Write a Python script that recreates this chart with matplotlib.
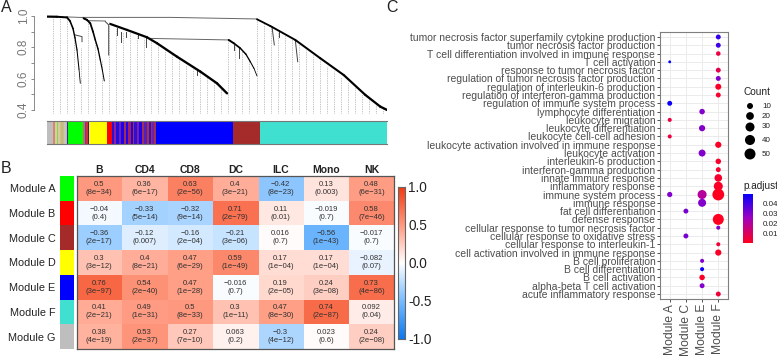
#!/usr/bin/env python3
import numpy as np
import matplotlib
matplotlib.use("Agg")
import matplotlib.pyplot as plt
from matplotlib.colors import LinearSegmentedColormap

plt.rcParams["font.family"] = ["Liberation Sans", "DejaVu Sans"]

W, H = 777, 356

# Panel A: dendrogram branches as (position, height, line width at each end)
BRANCHES_THICK = [
    ([0, 10, 20, 23, 26, 28, 30, 32, 33.3], [0.996, 0.995, 0.991, 0.968, 0.920, 0.860, 0.783, 0.660, 0.570], 1.6, 0.6),
    ([36.7, 40, 43.3, 46, 48.3, 51, 53.3, 55.5, 57.3], [0.985, 0.975, 0.953, 0.900, 0.847, 0.790, 0.719, 0.650, 0.585], 1.5, 0.7),
    ([63.3, 80, 100, 110, 130, 153.3, 170, 180], [0.949, 0.911, 0.864, 0.826, 0.740, 0.645, 0.570, 0.506], 1.6, 1.7),
    ([181.7, 187, 193.3, 199, 203.3, 207, 210], [0.847, 0.825, 0.794, 0.755, 0.708, 0.665, 0.617], 1.4, 0.6),
    ([210, 223.3, 248.3, 273.3, 296.7, 318.3, 333.3, 340], [0.979, 0.936, 0.847, 0.730, 0.623, 0.496, 0.421, 0.400], 1.3, 1.7),
]
BRANCHES_THIN = [
    ([28.3, 35, 35], [0.879, 0.868, 0.836]),
    ([58.3, 61.7, 61.7], [0.964, 0.943, 0.751]),
    ([70, 70], [0.921, 0.879]),
    ([74, 74], [0.900, 0.836]),
    ([79, 79], [0.900, 0.868]),
    ([90.7, 90.7], [0.879, 0.857]),
    ([99, 99], [0.857, 0.804]),
    ([150, 150], [0.651, 0.621]),
    ([186.7, 186.7], [0.815, 0.783]),
    ([192, 192], [0.794, 0.730]),
    ([225, 227.3], [0.932, 0.815]),
    ([231.7, 231.7], [0.911, 0.868]),
    ([248.3, 250.7], [0.847, 0.708]),
]
BRANCHES_LINK = [
    ([20, 36.7], [0.994, 0.990]),
    ([41.7, 58.3], [0.970, 0.968]),
    ([101.7, 181.7], [0.857, 0.847]),
    ([35, 124, 210], [0.991, 0.991, 0.981]),
]
GUIDE_X = [6, 13, 20, 27, 34, 41, 48, 55, 62, 69, 76, 83, 90, 97, 104, 111, 118, 125, 132, 139, 146, 153,
           160, 167, 174, 181, 188, 195, 202, 210, 217, 224, 231, 238, 245, 252, 259, 266, 273, 280, 287,
           294, 301, 308, 315, 322, 329, 336]
GUIDE_TOP = [0.99, 0.99, 0.99, 0.85, 0.80, 0.96, 0.85, 0.72, 0.96, 0.92, 0.90, 0.90, 0.88, 0.86, 0.84,
             0.83, 0.79, 0.76, 0.73, 0.69, 0.66, 0.64, 0.61, 0.58, 0.55, 0.85, 0.83, 0.78, 0.73, 0.98,
             0.96, 0.93, 0.90, 0.88, 0.85, 0.82, 0.78, 0.75, 0.72, 0.68, 0.65, 0.61, 0.58, 0.54, 0.50,
             0.47, 0.43, 0.41]

STRIP_WIDTHS = [6, 2.3, 1.5, 1.5, 1.5, 1.5, 1.5, 1.5, 1.5, 1.5, 0.8, 15.3, 1.5, 1.5, 1.5, 1.5, 0.5, 16.7, 5.7,
                2, 2, 3, 2, 3, 1.5, 2, 3, 2, 1.5, 3, 2, 3, 2, 3, 1.5, 2, 1.5, 2, 1.5, 76.7, 27.7, 130.7]
STRIP_COLORS = ["#BEBEBE", "#E08078", "#C8D890", "#90D060", "#D8C8A0", "#B0D870", "#E0A890", "#A8D080", "#C8C8B0",
                "#C0B8A8", "#3030A0", "#00FF00", "#C07060", "#8030A0", "#D03040", "#3010D0", "#FFFF00", "#FFFF00",
                "#FF0000", "#3010D0", "#9020A0", "#2010E0", "#7020B0", "#2000F0", "#A03050", "#2000F0", "#A02060",
                "#2000F0", "#B03040", "#3010D0", "#8020A0", "#2000F0", "#A03050", "#5020C0", "#B03040", "#3010D0",
                "#A03050", "#7020B0", "#A03050", "#0000FF", "#A52A2A", "#40E0D0"]

# Panel B: module/cell type correlations
CELL_TYPES = ["B", "CD4", "CD8", "DC", "ILC", "Mono", "NK"]
MODULES = ["Module A", "Module B", "Module C", "Module D", "Module E", "Module F", "Module G"]
MODULE_COLORS = ["#00FF00", "#FF0000", "#A52A2A", "#FFFF00", "#0000FF", "#40E0D0", "#BEBEBE"]
CORR = [
    ["0.5", "0.36", "0.63", "0.4", "-0.42", "0.13", "0.48"],
    ["-0.04", "-0.33", "-0.32", "0.71", "0.11", "-0.019", "0.58"],
    ["-0.36", "-0.12", "-0.16", "-0.21", "0.016", "-0.56", "-0.017"],
    ["0.3", "0.4", "0.47", "0.59", "0.17", "0.17", "-0.082"],
    ["0.76", "0.54", "0.47", "-0.016", "0.19", "0.24", "0.73"],
    ["0.41", "0.49", "0.5", "0.3", "0.47", "0.74", "0.092"],
    ["0.38", "0.53", "0.27", "0.063", "-0.3", "0.023", "0.24"],
]
PVALS = [
    ["8e-34", "6e-17", "2e-56", "3e-21", "8e-23", "0.003", "6e-31"],
    ["0.4", "5e-14", "9e-14", "2e-79", "0.01", "0.7", "7e-46"],
    ["2e-17", "0.007", "2e-04", "3e-06", "0.7", "1e-43", "0.7"],
    ["3e-12", "8e-21", "6e-29", "1e-49", "1e-04", "1e-04", "0.07"],
    ["3e-97", "2e-40", "1e-28", "0.7", "2e-05", "3e-08", "4e-86"],
    ["2e-21", "1e-31", "8e-33", "1e-11", "8e-30", "2e-87", "0.04"],
    ["4e-19", "2e-37", "7e-10", "0.2", "4e-12", "0.6", "2e-08"],
]

# Panel C: GO enrichment dots
TERMS = [
    "tumor necrosis factor superfamily cytokine production", "tumor necrosis factor production",
    "T cell differentiation involved in immune response", "T cell activation",
    "response to tumor necrosis factor", "regulation of tumor necrosis factor production",
    "regulation of interleukin-6 production", "regulation of interferon-gamma production",
    "regulation of immune system process", "lymphocyte differentiation", "leukocyte migration",
    "leukocyte differentiation", "leukocyte cell-cell adhesion",
    "leukocyte activation involved in immune response", "leukocyte activation",
    "interleukin-6 production", "interferon-gamma production", "innate immune response",
    "inflammatory response", "immune system process", "immune response", "fat cell differentiation",
    "defense response", "cellular response to tumor necrosis factor",
    "cellular response to oxidative stress", "cellular response to interleukin-1",
    "cell activation involved in immune response", "B cell proliferation", "B cell differentiation",
    "B cell activation", "alpha-beta T cell activation", "acute inflammatory response",
]
GO_MODULES = ["Module A", "Module C", "Module E", "Module F"]
DOT_TERM = [0, 1, 2, 3, 4, 5, 6, 7, 8, 9, 10, 11, 12, 13, 14, 15, 16, 17, 18, 19, 19, 19, 20, 21, 22, 23, 24, 25, 26, 27, 28, 29, 30, 31]
DOT_MODULE = [3, 3, 3, 0, 3, 3, 3, 3, 0, 2, 0, 2, 0, 3, 2, 3, 3, 3, 3, 0, 2, 3, 2, 1, 3, 3, 1, 3, 3, 2, 2, 2, 2, 3]
DOT_COUNT = [6, 6, 5, 3, 6, 6, 10, 6, 6, 8, 4, 11, 4, 11, 15, 8, 6, 19, 30, 7, 30, 60, 22, 6, 50, 4, 6, 4, 11, 4, 4, 8, 6, 6]
DOT_P = [0.042, 0.04, 0.006, 0.05, 0.008, 0.03, 0.002, 0.003, 0.048, 0.03, 0.006, 0.03, 0.006, 0.002, 0.03, 0.003,
         0.004, 0.003, 0.002, 0.03, 0.02, 0.001, 0.03, 0.032, 0.001, 0.03, 0.032, 0.005, 0.002, 0.03, 0.048, 0.002, 0.03, 0.005]
LEGEND_COUNTS = [10, 20, 30, 40, 50]
LEGEND_P = [0.04, 0.03, 0.02, 0.01]

HEAT_CMAP = LinearSegmentedColormap.from_list(
    "heat", [(0, "#0A78F0"), (0.25, "#78BCFF"), (0.5, "#FFFFFF"), (0.75, "#FF9A80"), (1, "#F23A10")])
P_CMAP = LinearSegmentedColormap.from_list("padj", ["#FF0020", "#A000C0", "#0000FF"])


def _axes(fig, left, top, right, bottom, **kw):
    # boxes are given in image pixels, measured from the top left
    return fig.add_axes([left / W, 1 - bottom / H, (right - left) / W, (bottom - top) / H], **kw)


def _dot_px(count):
    return 2.86 + 8.96 * np.sqrt((np.asarray(count, dtype=float) - 3) / 57)


def _plot_dendrogram(fig):
    ax = _axes(fig, 47, 14, 387, 114)
    ax.set_xlim(0, 340)
    ax.set_ylim(0.374, 1.0127)
    ax.vlines(GUIDE_X, 0.38, GUIDE_TOP, color="#8C8C8C", linewidth=0.5, linestyle=(0, (1, 1.5)))
    for xs, ys in BRANCHES_LINK:
        ax.plot(xs, ys, color="#666666", linewidth=0.7)
    for xs, ys in BRANCHES_THIN:
        ax.plot(xs, ys, color="#444444", linewidth=0.7)
    for xs, ys, lw_start, lw_end in BRANCHES_THICK:
        # widths change along the branch, so draw it piece by piece
        widths = np.linspace(lw_start, lw_end, len(xs) - 1)
        for i, lw in enumerate(widths):
            ax.plot(xs[i:i + 2], ys[i:i + 2], color="black", linewidth=lw, solid_capstyle="round")
    for name in ("top", "right", "bottom"):
        ax.spines[name].set_visible(False)
    ax.spines["left"].set_position(("outward", 9.4))
    ax.spines["left"].set_bounds(0.4, 1.0)
    ax.spines["left"].set_color("#777777")
    ax.spines["left"].set_linewidth(0.6)
    ax.set_xticks([])
    ax.set_yticks([0.4, 0.5, 0.6, 0.7, 0.8, 0.9, 1.0])
    ax.set_yticklabels(["0.4", "", "0.6", "", "0.8", "", "1.0"], rotation=90, va="center", fontsize=8.5, color="#777777")
    ax.tick_params(axis="y", length=2.5, width=0.6, color="#777777", pad=0.5)
    ax.patch.set_visible(False)

    strip = _axes(fig, 47, 121, 387, 144)
    strip.barh(0, STRIP_WIDTHS, left=np.cumsum([0] + STRIP_WIDTHS[:-1]), height=1, color=STRIP_COLORS, linewidth=0)
    strip.set_xlim(0, 340)
    strip.set_ylim(-0.5, 0.5)
    strip.set_xticks([])
    strip.set_yticks([])
    for name in ("left", "right"):
        strip.spines[name].set_visible(False)
    for name in ("top", "bottom"):
        strip.spines[name].set_color("#777777")
        strip.spines[name].set_linewidth(0.8)


def _plot_heatmap(fig):
    values = np.array(CORR, dtype=float)
    ax = _axes(fig, 76.5, 176, 394, 349)
    ax.imshow(values, cmap=HEAT_CMAP, vmin=-1, vmax=1, aspect="auto")
    for r in range(len(MODULES)):
        for c in range(len(CELL_TYPES)):
            label = f"{CORR[r][c]}\n({PVALS[r][c]})".replace("-", "\u2212")
            ax.text(c, r, label, ha="center", va="center", fontsize=5.5, color="#303030", linespacing=1.2)
    ax.set_xticks(range(len(CELL_TYPES)))
    ax.set_xticklabels(CELL_TYPES, fontweight="bold", fontsize=7.5, color="#222222")
    ax.xaxis.tick_top()
    ax.set_yticks(range(len(MODULES)))
    ax.set_yticklabels(MODULES, fontsize=7.8, color="#222222")
    ax.tick_params(axis="x", length=0, pad=0.5)
    ax.tick_params(axis="y", length=0, pad=15)
    for s in ax.spines.values():
        s.set_color("#555555")
        s.set_linewidth(0.9)

    side = _axes(fig, 60, 176, 74, 349)
    side.bar(0, 1, bottom=np.arange(len(MODULES)) - 0.5, width=1, color=MODULE_COLORS, linewidth=0)
    side.set_ylim(len(MODULES) - 0.5, -0.5)
    side.set_xlim(-0.5, 0.5)
    side.axis("off")

    cbar = _axes(fig, 398, 187, 405, 339)
    cbar.imshow(np.linspace(1, -1, 256)[:, None], cmap=HEAT_CMAP, vmin=-1, vmax=1, aspect="auto", extent=[0, 1, -1, 1])
    cbar.set_xticks([])
    cbar.yaxis.tick_right()
    cbar.set_yticks([-1, -0.5, 0, 0.5, 1])
    cbar.set_yticklabels(["-1.0", "-0.5", "0.0", "0.5", "1.0"], fontsize=9.8, color="#222222")
    cbar.tick_params(axis="y", length=0, pad=2.5)
    for s in cbar.spines.values():
        s.set_color("#666666")
        s.set_linewidth(0.8)


def _plot_dots(fig):
    ax = _axes(fig, 660, 32, 728, 299)
    ax.set_axisbelow(True)
    ax.grid(color="#EBEBEB", linewidth=0.7)
    ax.scatter(DOT_MODULE, DOT_TERM, s=(_dot_px(DOT_COUNT) * 0.72) ** 2, c=DOT_P, cmap=P_CMAP, vmin=0.001, vmax=0.05,
               linewidths=0, zorder=3)
    ax.set_xlim(-0.6, 3.6)
    ax.set_ylim(31.6, -0.6)
    ax.set_yticks(range(len(TERMS)))
    ax.set_yticklabels(TERMS, fontsize=7.45, color="#4D4D4D")
    ax.set_xticks(range(len(GO_MODULES)))
    ax.set_xticklabels(GO_MODULES, rotation=90, fontsize=8.7, color="#4D4D4D")
    ax.tick_params(length=2.2, width=0.6, color="#333333", pad=1.2)
    for s in ax.spines.values():
        s.set_color("#7F7F7F")
        s.set_linewidth(0.8)

    fig.text(743 / W, 1 - 92 / H, "Count", fontsize=7.3, va="center", color="#222222")
    legend_y = [106, 116, 127, 140, 154]
    leg = _axes(fig, 740, 98, 777, 162)
    leg.set_xlim(740, 777)
    leg.set_ylim(162, 98)
    leg.axis("off")
    leg.scatter([750] * 5, legend_y, s=(_dot_px(LEGEND_COUNTS) * 0.72) ** 2, color="black", linewidths=0)
    for count, y in zip(LEGEND_COUNTS, legend_y):
        leg.text(762, y, str(count), fontsize=5.8, va="center", color="#222222")

    fig.text(743 / W, 1 - 186 / H, "p.adjust", fontsize=7.2, va="center", color="#222222")
    pbar = _axes(fig, 743, 194, 753, 243)
    pbar.imshow(np.linspace(0.05, 0.001, 128)[:, None], cmap=P_CMAP, aspect="auto", extent=[0, 1, 0.001, 0.05])
    pbar.set_xticks([])
    pbar.yaxis.tick_right()
    pbar.set_yticks(LEGEND_P)
    pbar.set_yticklabels([f"{p:.2f}" for p in LEGEND_P], fontsize=5.8, color="#222222")
    pbar.tick_params(axis="y", length=0, pad=7)
    for s in pbar.spines.values():
        s.set_visible(False)


def main():
    fig = plt.figure(figsize=(W / 100, H / 100), dpi=100)
    _plot_dendrogram(fig)
    _plot_heatmap(fig)
    _plot_dots(fig)
    for letter, x, y in [("A", 1, 8), ("B", 1, 168), ("C", 386, 8)]:
        fig.text(x / W, 1 - y / H, letter, fontsize=11.5, va="center", color="#222222")
    fig.savefig("out.png", dpi=100)


if __name__ == "__main__":
    main()
